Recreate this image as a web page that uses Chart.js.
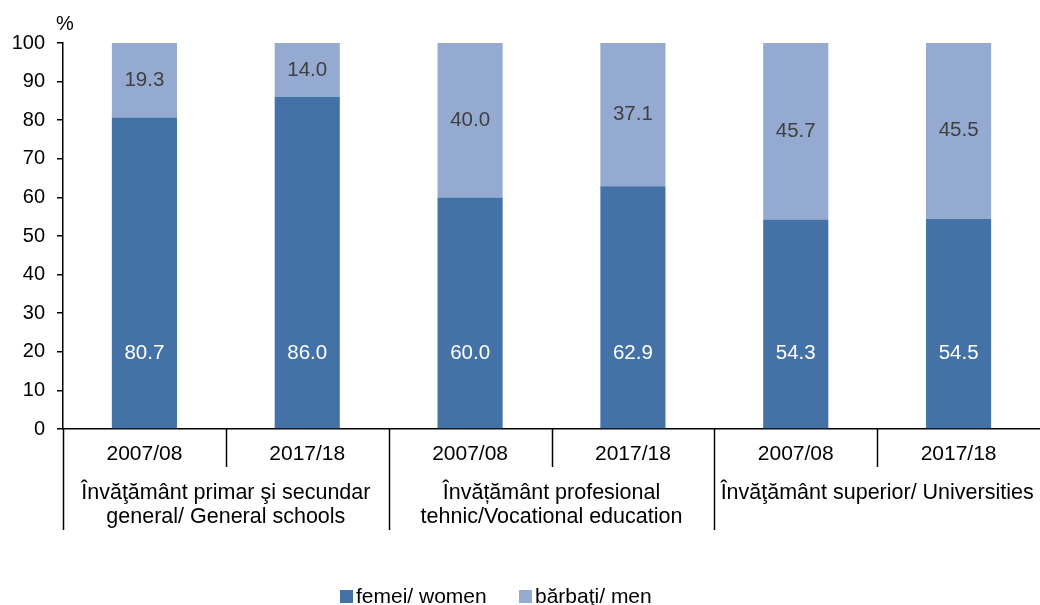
<!DOCTYPE html>
<html>
<head>
<meta charset="utf-8">
<script src="https://cdn.jsdelivr.net/npm/chart.js@4/dist/chart.umd.min.js"></script>
<style>
  body { margin: 0; background: #fff; }
  #wrap { width: 1040px; height: 605px; position: relative; }
</style>
</head>
<body>
<div id="wrap"><canvas id="chart"></canvas></div>
<script>
const years = ["2007/08", "2017/18", "2007/08", "2017/18", "2007/08", "2017/18"];
const groups = [
    ["Învăţământ primar şi secundar", "general/ General schools"],
    ["Învățământ profesional", "tehnic/Vocational education"],
    ["Învăţământ superior/ Universities"],
];
const women = [80.7, 86.0, 60.0, 62.9, 54.3, 54.5];
const men = [19.3, 14.0, 40.0, 37.1, 45.7, 45.5];
const seriesNames = ["femei/ women", "bărbaţi/ men"];
const yTicks = [0, 10, 20, 30, 40, 50, 60, 70, 80, 90, 100];

const FONT = '"Liberation Sans", Arial, sans-serif';
const DARK = "#4472a7";
const LIGHT = "#95aad0";

// --- labels, category axis, legend ---
const extrasPlugin = {
    id: "extras",
    afterDatasetsDraw(chart) {
        const ctx = chart.ctx;
        const x = chart.scales.x;
        const y = chart.scales.y;
        const area = chart.chartArea;
        ctx.save();
        ctx.font = "20.5px " + FONT;
        ctx.textAlign = "center";
        ctx.textBaseline = "middle";

        // value labels
        chart.getDatasetMeta(0).data.forEach((bar, i) => {
            ctx.fillStyle = "#ffffff";
            ctx.fillText(women[i].toFixed(1), bar.x, y.getPixelForValue(19.5));
        });
        chart.getDatasetMeta(1).data.forEach((bar, i) => {
            ctx.fillStyle = "#404040";
            ctx.fillText(men[i].toFixed(1), bar.x, (bar.y + bar.base) / 2);
        });

        // "%" unit
        ctx.fillStyle = "#000";
        ctx.font = "20px " + FONT;
        ctx.fillText("%", area.left + 2, 24);

        // category dividers
        const bound = (i) => {
            if (i === 0) return area.left;
            if (i === years.length) return area.right;
            return (x.getPixelForValue(i - 1) + x.getPixelForValue(i)) / 2;
        };
        ctx.strokeStyle = "#000";
        ctx.lineWidth = 1.5;
        for (let i = 0; i < years.length; i++) {
            const bx = Math.round(bound(i)) + 0.5;
            ctx.beginPath();
            ctx.moveTo(bx, area.bottom);
            ctx.lineTo(bx, i % 2 === 0 ? 530 : 467);
            ctx.stroke();
        }

        // year labels
        ctx.font = "21px " + FONT;
        years.forEach((yr, i) => {
            ctx.fillText(yr, x.getPixelForValue(i), 454);
        });

        // group labels
        ctx.font = "21.5px " + FONT;
        groups.forEach((lines, g) => {
            const cx = (bound(g * 2) + bound(g * 2 + 2)) / 2;
            lines.forEach((t, k) => ctx.fillText(t, cx, 493 + k * 24));
        });

        // legend
        const items = [
            { text: seriesNames[0], color: DARK, x: 340 },
            { text: seriesNames[1], color: LIGHT, x: 519 },
        ];
        ctx.font = "21px " + FONT;
        ctx.textAlign = "left";
        items.forEach((it) => {
            ctx.fillStyle = it.color;
            ctx.fillRect(it.x, 590, 13, 13);
            ctx.fillStyle = "#000";
            ctx.fillText(it.text, it.x + 16, 597);
        });
        ctx.restore();
    },
};

new Chart(document.getElementById("chart"), {
    type: "bar",
    data: {
        labels: years,
        datasets: [
            { label: seriesNames[0], data: women, backgroundColor: DARK },
            { label: seriesNames[1], data: men, backgroundColor: LIGHT },
        ],
    },
    options: {
        responsive: true,
        maintainAspectRatio: false,
        animation: false,
        layout: { padding: { top: 43, right: 0, left: 0, bottom: 0 } },
        datasets: { bar: { categoryPercentage: 1, barPercentage: 0.4 } },
        plugins: { legend: { display: false }, tooltip: { enabled: false } },
        scales: {
            x: {
                stacked: true,
                grid: { display: false },
                ticks: { display: false },
                border: { color: "#000", width: 1.5 },
                afterFit: (s) => { s.height = 176; },
            },
            y: {
                stacked: true,
                min: 0,
                max: 100,
                afterBuildTicks: (s) => { s.ticks = yTicks.map((v) => ({ value: v })); },
                grid: { drawOnChartArea: false, drawTicks: true, tickLength: 6, color: "#000", lineWidth: 1.5 },
                border: { color: "#000", width: 1.5 },
                ticks: { color: "#000", padding: 12, font: { family: FONT, size: 20 } },
                afterFit: (s) => { s.width = 63; },
            },
        },
    },
    plugins: [extrasPlugin],
});
</script>
</body>
</html>
